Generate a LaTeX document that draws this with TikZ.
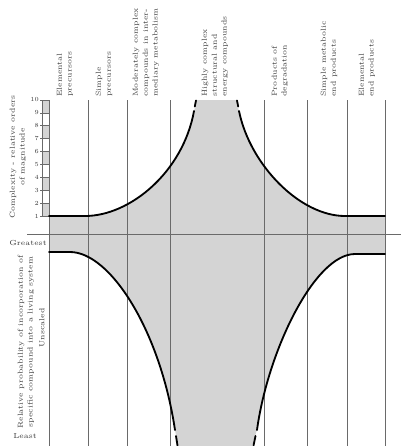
\documentclass[tikz,border=0pt]{standalone}
\usepackage{xcolor}
\definecolor{band}{HTML}{D4D4D4}
\definecolor{rulegray}{HTML}{6A6A6A}
\definecolor{ink}{HTML}{3A3A3A}
\usetikzlibrary{positioning}

\begin{document}
\begin{tikzpicture}[x=0.25mm, y=-0.25mm,
  head/.style={rotate=90, anchor=west, align=left, text=ink, inner sep=0pt,
    font=\fontsize{5.2}{7}\selectfont},
  side/.style={rotate=90, align=center, text=ink, inner sep=0pt,
    font=\fontsize{5.2}{7}\selectfont},
  plain/.style={text=ink, inner sep=0pt, font=\fontsize{5.2}{7}\selectfont},
  curve/.style={line width=1.3pt, line cap=round},
  rule/.style={draw=rulegray, line width=0.5pt}]
  \useasboundingbox (0,0) rectangle (401,446);

  % shaded band between the two curves
  \fill[band] (49,216) -- (85,216) .. controls (130,216) and (183,172) .. (194,112)
    -- (196,100) -- (237,100) -- (239,112)
    .. controls (250,165) and (300,216) .. (345,216) -- (385,216) -- (385,254)
    -- (355,254) .. controls (315,254) and (268,350) .. (257,430)
    -- (252,446) -- (178,446) -- (175,430)
    .. controls (160,330) and (110,252) .. (70,252) -- (49,252) -- cycle;

  % scale of complexity
  \foreach \n in {1,3,5,7,9} {
    \pgfmathsetmacro\ylo{216-(\n-1)*12.89}
    \pgfmathsetmacro\yhi{216-\n*12.89}
    \fill[band] (42,\ylo) rectangle (49,\yhi);
  }
  \draw[rule] (42,100) rectangle (49,216);
  \foreach \n in {1,...,10} {
    \pgfmathsetmacro\yt{216-(\n-1)*12.89}
    \draw[rule] (40,\yt) -- (49,\yt);
    \node[text=ink, anchor=east, inner sep=0.6pt,
      font=\fontsize{4.4}{5}\selectfont] (tick\n) at (40,\yt) {\n};
  }

  % columns and zero line
  \foreach \x in {49,88,127,170,264,307,347,385}
    \draw[rule] (\x,100) -- (\x,446);
  \draw[rule] (27,234) -- (401,234);

  % complexity curve
  \draw[curve] (49,216) -- (85,216) .. controls (130,216) and (183,172) .. (194,111);
  \draw[curve] (194.8,106.5) -- (196,100.5);
  \draw[curve] (239,111) .. controls (250,165) and (300,216) .. (345,216) -- (385,216);
  \draw[curve] (238.2,106.5) -- (237,100.5);

  % probability curve
  \draw[curve] (49,252) -- (70,252) .. controls (110,252) and (160,330) .. (175,430);
  \draw[curve] (176,436) -- (177.5,445.5);
  \draw[curve] (257,430) .. controls (268,350) and (315,254) .. (355,254) -- (385,254);
  \draw[curve] (255.5,436) -- (253.5,445.5);

  % column headings
  \node[head] (elemPre) at (65,97) {Elemental\\precursors};
  \node[head] (simplePre) at (104,97) {Simple\\precursors};
  \node[head] (moderate) at (146,97) {Moderately complex\\compounds in inter-\\mediary metabolism};
  \node[head] (highly) at (215,97) {Highly complex\\structural and\\energy compounds};
  \node[head] (degrade) at (280,97) {Products of\\degradation};
  \node[head] (simpleEnd) at (329,97) {Simple metabolic\\end products};
  \node[head] (elemEnd) at (367,97) {Elemental\\end products};

  % side labels
  \node[side] (complexity) at (18,157) {Complexity - relative orders\\of magnitude};
  \node[plain, anchor=east] (greatest) at (47,243) {Greatest};
  \node[side] (probability) at (26,342) {Relative probability of incorporation of\\specific compound into a living system};
  \node[side] (unscaled) at (42,328) {Unscaled};
  \node[plain, anchor=west] (least) at (13,436) {Least};
\end{tikzpicture}
\end{document}
